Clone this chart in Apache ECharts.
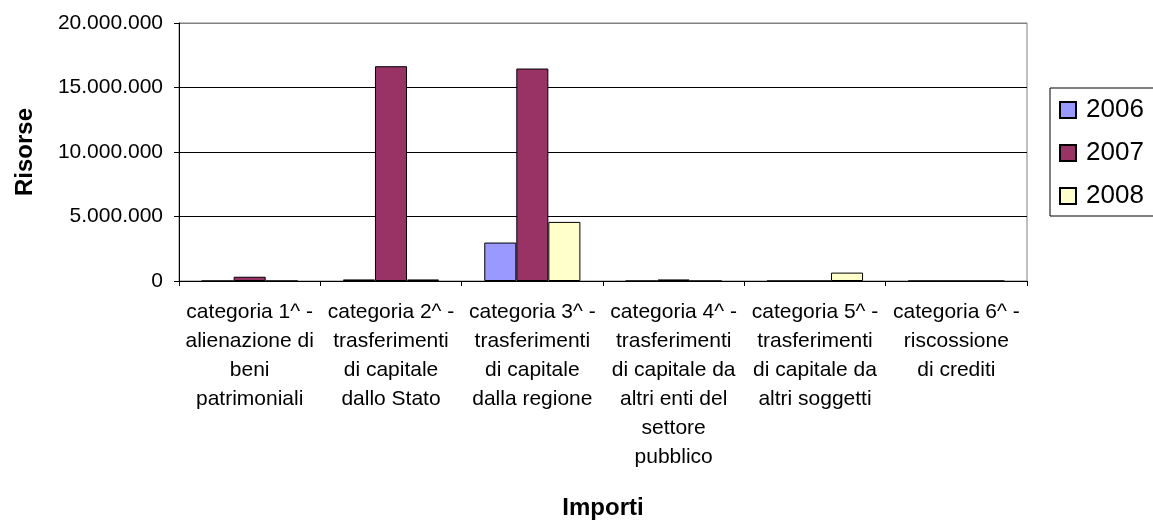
<!DOCTYPE html>
<html>
<head>
<meta charset="utf-8">
<script src="https://cdn.jsdelivr.net/npm/echarts@6/dist/echarts.min.js"></script>
<style>
  html, body { margin: 0; padding: 0; background: #fff; }
  #chart { width: 1153px; height: 523px; }
</style>
</head>
<body>
<div id="chart"></div>
<script>
// categorie (etichette su più righe come nel grafico originale)
var categories = [
    'categoria 1^ -\nalienazione di\nbeni\npatrimoniali',
    'categoria 2^ -\ntrasferimenti\ndi capitale\ndallo Stato',
    'categoria 3^ -\ntrasferimenti\ndi capitale\ndalla regione',
    'categoria 4^ -\ntrasferimenti\ndi capitale da\naltri enti del\nsettore\npubblico',
    'categoria 5^ -\ntrasferimenti\ndi capitale da\naltri soggetti',
    'categoria 6^ -\nriscossione\ndi crediti'
];

var years = ['2006', '2007', '2008'];

var values2006 = [0, 120000, 2980000, 0, 0, 0];
var values2007 = [330000, 16650000, 16470000, 120000, 0, 0];
var values2008 = [0, 120000, 4580000, 0, 650000, 0];

var yTicks = [0, 5000000, 10000000, 15000000, 20000000];

var colors = ['#9999FF', '#993366', '#FFFFCC'];

function fmt(v) {
    return String(v).replace(/\B(?=(\d{3})+(?!\d))/g, '.');
}

var seriesData = [values2006, values2007, values2008];
var series = [];
for (var i = 0; i < years.length; i++) {
    series.push({
        name: years[i],
        type: 'bar',
        data: seriesData[i],
        barGap: '0%',
        barCategoryGap: '32%',
        itemStyle: {
            color: colors[i],
            borderColor: '#000',
            borderWidth: 1
        }
    });
}

var myChart = echarts.init(document.getElementById('chart'));

var option = {
    animation: false,
    textStyle: { fontFamily: 'Liberation Sans, Arial, sans-serif' },
    grid: {
        left: 179,
        top: 23,
        right: 126,
        bottom: 242,
        show: true,
        borderColor: '#808080',
        borderWidth: 1
    },
    legend: {
        orient: 'vertical',
        left: 1050,
        top: 88,
        data: years,
        icon: 'rect',
        itemWidth: 16,
        itemHeight: 16,
        itemGap: 17,
        padding: [9, 12, 7, 9],
        borderColor: '#000',
        borderWidth: 1,
        textStyle: { fontSize: 26, lineHeight: 26, color: '#000', padding: [0, 0, 0, 5] }
    },
    xAxis: {
        type: 'category',
        data: categories,
        name: 'Importi',
        nameLocation: 'middle',
        nameGap: 215,
        nameTextStyle: { fontSize: 24, fontWeight: 'bold', color: '#000' },
        axisLine: { lineStyle: { color: '#000', width: 1 } },
        axisTick: { show: true, length: 5, lineStyle: { color: '#000' } },
        axisLabel: {
            interval: 0,
            fontSize: 21,
            lineHeight: 29,
            color: '#000',
            margin: 17
        }
    },
    yAxis: {
        type: 'value',
        min: 0,
        max: yTicks[yTicks.length - 1],
        interval: yTicks[1] - yTicks[0],
        name: 'Risorse',
        nameLocation: 'middle',
        nameGap: 142,
        nameRotate: 90,
        nameTextStyle: { fontSize: 24, fontWeight: 'bold', color: '#000' },
        axisLine: { show: true, lineStyle: { color: '#000', width: 1 } },
        axisTick: { show: true, length: 5, lineStyle: { color: '#000' } },
        axisLabel: {
            fontSize: 21,
            color: '#000',
            margin: 16,
            formatter: fmt
        },
        splitLine: {
            show: true,
            lineStyle: { color: ['#000', '#000', '#000', '#000', '#808080'], width: 1 }
        }
    },
    series: series
};

myChart.setOption(option);
</script>
</body>
</html>
